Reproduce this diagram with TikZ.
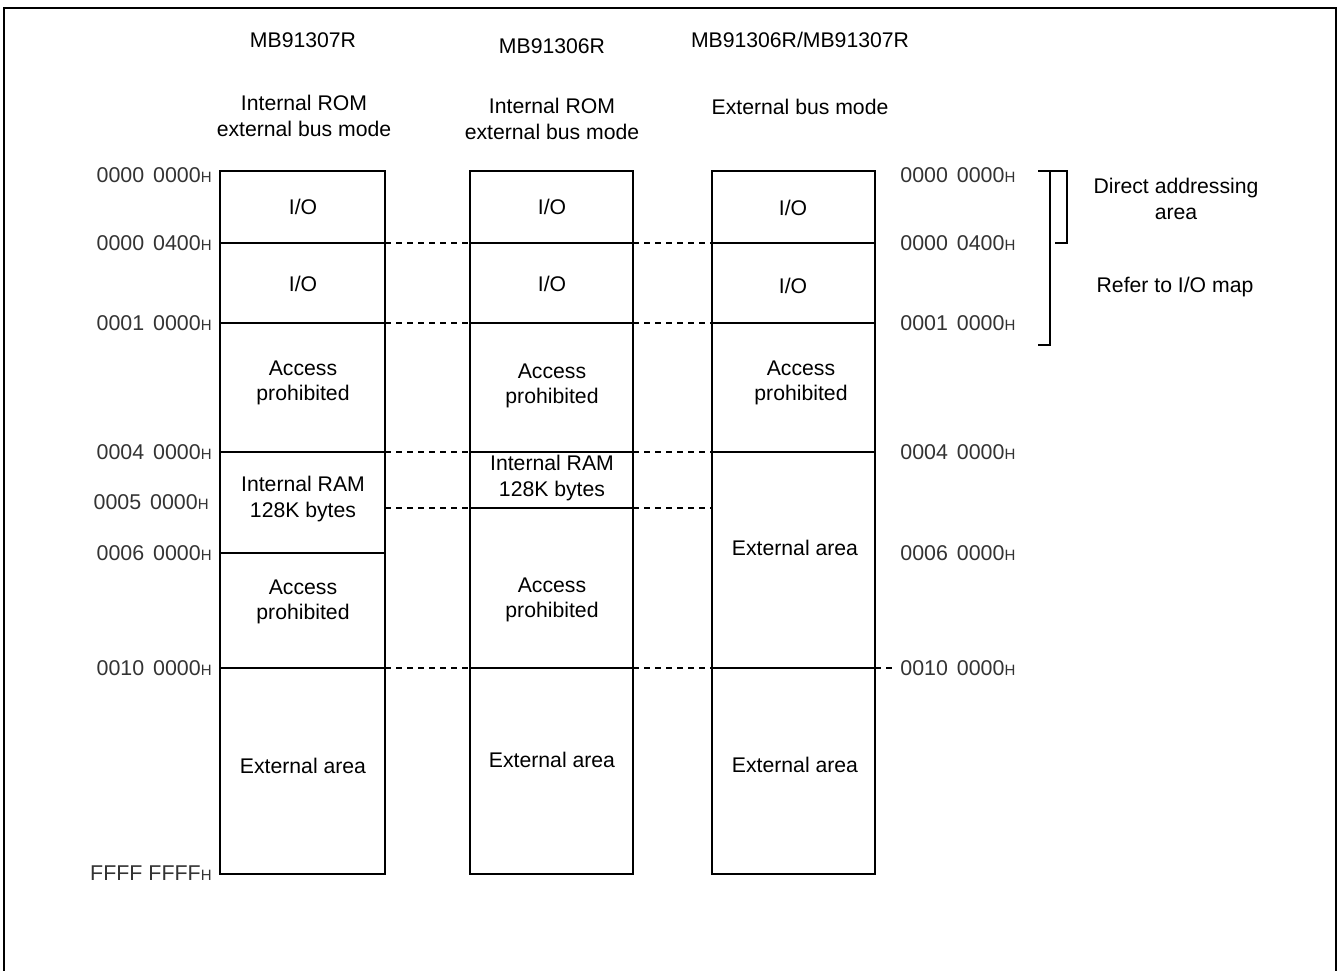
\documentclass[tikz,border=0pt]{standalone}
\usepackage{fontspec}
\setmainfont{Liberation Sans}
\newcommand{\hexaddr}[1]{#1{\fontsize{7.5}{9}\selectfont H}}
\tikzset{
	outerframe/.style={line width=1.2pt},
	membox/.style={draw, line width=1.4pt, outer sep=0pt, inner sep=0pt, anchor=north west},
	divider/.style={line width=0.6pt},
	gapline/.style={line width=0.55pt, dash pattern=on 3pt off 2.5pt},
	bracket/.style={line width=0.55pt},
	lbl/.style={inner sep=0pt, align=center, font=\fontsize{10.6}{12.8}\selectfont},
	addr/.style={inner sep=0pt, text=black!80, font=\fontsize{10.7}{12.8}\selectfont}
}
\begin{document}
\begin{tikzpicture}[x=0.5pt, y=-0.5pt]
	\useasboundingbox (0,0) rectangle (1338,970);
	% frame round the figure
	\draw[outerframe] (4,990) -- (4,8) -- (1336,8) -- (1336,990);
	
	% headers
	\node[lbl] (headA) at (303,40) {MB91307R};
	\node[lbl] (headB) at (552,46) {MB91306R};
	\node[lbl] (headC) at (800,40) {MB91306R/MB91307R};
	\node[lbl] (modeA) at (304,116) {Internal ROM\\external bus mode};
	\node[lbl] (modeB) at (552,119) {Internal ROM\\external bus mode};
	\node[lbl] (modeC) at (800,107) {External bus mode};
	
	% the three maps
	\node[membox, minimum width=82.5pt, minimum height=351.5pt] (mapA) at (220,171) {};
	\node[membox, minimum width=81.5pt, minimum height=351.5pt] (mapB) at (470,171) {};
	\node[membox, minimum width=81.5pt, minimum height=351.5pt] (mapC) at (712,171) {};
	
	% area borders
	\draw[divider] (mapA.west |- 0,243) -- (mapA.east |- 0,243);
	\draw[divider] (mapA.west |- 0,323) -- (mapA.east |- 0,323);
	\draw[divider] (mapA.west |- 0,452) -- (mapA.east |- 0,452);
	\draw[divider] (mapA.west |- 0,553) -- (mapA.east |- 0,553);
	\draw[divider] (mapA.west |- 0,668) -- (mapA.east |- 0,668);
	
	\draw[divider] (mapB.west |- 0,243) -- (mapB.east |- 0,243);
	\draw[divider] (mapB.west |- 0,323) -- (mapB.east |- 0,323);
	\draw[divider] (mapB.west |- 0,452) -- (mapB.east |- 0,452);
	\draw[divider] (mapB.west |- 0,508) -- (mapB.east |- 0,508);
	\draw[divider] (mapB.west |- 0,668) -- (mapB.east |- 0,668);
	
	\draw[divider] (mapC.west |- 0,243) -- (mapC.east |- 0,243);
	\draw[divider] (mapC.west |- 0,323) -- (mapC.east |- 0,323);
	\draw[divider] (mapC.west |- 0,452) -- (mapC.east |- 0,452);
	\draw[divider] (mapC.west |- 0,668) -- (mapC.east |- 0,668);
	
	% dashed links between the maps
	\draw[gapline] (mapA.east |- 0,243) -- (mapB.west |- 0,243);
	\draw[gapline] (mapB.east |- 0,243) -- (mapC.west |- 0,243);
	\draw[gapline] (mapA.east |- 0,323) -- (mapB.west |- 0,323);
	\draw[gapline] (mapB.east |- 0,323) -- (mapC.west |- 0,323);
	\draw[gapline] (mapA.east |- 0,452) -- (mapB.west |- 0,452);
	\draw[gapline] (mapB.east |- 0,452) -- (mapC.west |- 0,452);
	\draw[gapline] (mapA.east |- 0,508) -- (mapB.west |- 0,508);
	\draw[gapline] (mapB.east |- 0,508) -- (mapC.west |- 0,508);
	\draw[gapline] (mapA.east |- 0,668) -- (mapB.west |- 0,668);
	\draw[gapline] (mapB.east |- 0,668) -- (mapC.west |- 0,668);
	\draw[gapline] (mapC.east |- 0,668) -- ++(18,0);
	
	% contents of the first map
	\node[lbl] (ioA1) at (303,207) {I/O};
	\node[lbl] (ioA2) at (303,284) {I/O};
	\node[lbl] (noA1) at (303,383) {Access\\prohibited};
	\node[lbl] (ramA) at (303,499) {Internal RAM\\128K bytes};
	\node[lbl] (noA2) at (303,602) {Access\\prohibited};
	\node[lbl] (extA) at (303,766) {External area};
	
	% contents of the second map
	\node[lbl] (ioB1) at (552,207) {I/O};
	\node[lbl] (ioB2) at (552,284) {I/O};
	\node[lbl] (noB1) at (552,386) {Access\\prohibited};
	\node[lbl] (ramB) at (552,478) {Internal RAM\\128K bytes};
	\node[lbl] (noB2) at (552,600) {Access\\prohibited};
	\node[lbl] (extB) at (552,760) {External area};
	
	% contents of the third map
	\node[lbl] (ioC1) at (793,208) {I/O};
	\node[lbl] (ioC2) at (793,286) {I/O};
	\node[lbl] (noC1) at (801,383) {Access\\prohibited};
	\node[lbl] (extC1) at (795,548) {External area};
	\node[lbl] (extC2) at (795,765) {External area};
	
	% addresses on the left
	\node[addr, anchor=east] (la0) at (212,175) {\hexaddr{0000\hspace{1.5pt} 0000}};
	\node[addr, anchor=east] (la1) at (212,243) {\hexaddr{0000\hspace{1.5pt} 0400}};
	\node[addr, anchor=east] (la2) at (212,323) {\hexaddr{0001\hspace{1.5pt} 0000}};
	\node[addr, anchor=east] (la3) at (212,452) {\hexaddr{0004\hspace{1.5pt} 0000}};
	\node[addr, anchor=east] (la4) at (209,502) {\hexaddr{0005\hspace{1.5pt} 0000}};
	\node[addr, anchor=east] (la5) at (212,553) {\hexaddr{0006\hspace{1.5pt} 0000}};
	\node[addr, anchor=east] (la6) at (212,668) {\hexaddr{0010\hspace{1.5pt} 0000}};
	\node[addr, anchor=east] (la7) at (212,873) {\hexaddr{FFFF FFFF}};
	
	% addresses on the right
	\node[addr, anchor=west] (ra0) at (900,175) {\hexaddr{0000\hspace{1.5pt} 0000}};
	\node[addr, anchor=west] (ra1) at (900,243) {\hexaddr{0000\hspace{1.5pt} 0400}};
	\node[addr, anchor=west] (ra2) at (900,323) {\hexaddr{0001\hspace{1.5pt} 0000}};
	\node[addr, anchor=west] (ra3) at (900,452) {\hexaddr{0004\hspace{1.5pt} 0000}};
	\node[addr, anchor=west] (ra5) at (900,553) {\hexaddr{0006\hspace{1.5pt} 0000}};
	\node[addr, anchor=west] (ra6) at (900,668) {\hexaddr{0010\hspace{1.5pt} 0000}};
	
	% brackets and notes
	\draw[bracket] (1038,171) -- (1067,171) -- (1067,243) -- (1055,243);
	\draw[bracket] (1050,171) -- (1050,345) -- (1038,345);
	\node[lbl] (direct) at (1176,199) {Direct addressing\\area};
	\node[lbl] (iomap) at (1175,287) {Refer to I/O map};
\end{tikzpicture}
\end{document}
